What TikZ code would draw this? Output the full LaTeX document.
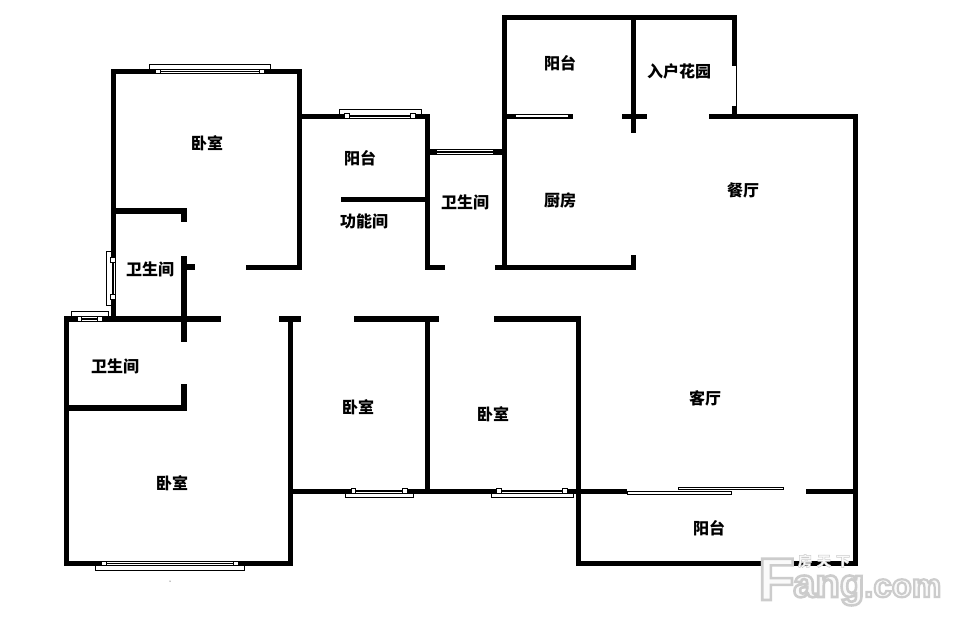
\documentclass[tikz,border=0pt]{standalone}
\usepackage{fontspec}
\setmainfont{Liberation Sans}
\newfontfamily\cjk{Noto Sans CJK SC}
\newcommand{\markout}[2]{\special{pdf:code 2 Tr #1 w 0.8 G 0.98 g}#2\special{pdf:code 0 Tr}}
\tikzset{
	wall/.style={line width=5pt},
	wallb/.style={line width=6pt},
	frame/.style={draw, fill=white, line width=.8pt},
	slit/.style={draw=white, line width=3.6pt},
	mid/.style={draw=black, line width=1.2pt},
	sq/.style={draw, fill=white, line width=.7pt, minimum size=4.6pt, inner sep=0pt},
	room/.style={font=\cjk\bfseries\fontsize{16}{16}\selectfont, inner sep=0pt},
	logo/.style={inner sep=0pt, anchor=base west},
}
\begin{document}
\begin{tikzpicture}[x=1pt, y=-1pt]
	\useasboundingbox[fill=white] (0,0) rectangle (957,623);

	% Window frames, behind the walls
	\foreach \xa/\xb/\ya/\yb in {149/270/64.5/72, 339.5/421.5/109.5/116, 71.5/108.5/311.5/319,
		95.5/244.5/570/563, 345.5/413.5/497/491, 491/573.5/497/491}
		\draw[frame] (\xa,\ya) rectangle (\xb,\yb);
	\draw[frame] (106.5,251) rectangle (113,305.5);

	% Walls, upper left
	\draw[wall] (113,319) -- (113,71.5) -- (299,71.5) -- (299,267) -- (246,267);
	\draw[wall] (299,116) -- (427,116) -- (427,267) -- (445,267);
	\draw[wall] (341,199) -- (427,199);
	\draw[wallb] (113,211) -- (184,211) -- (184,222);
	\draw[wallb] (184,256) -- (184,342);
	\draw[wallb] (184,267) -- (195,267);

	% Walls, corridor and lower left
	\draw[wallb] (64,319) -- (221,319);
	\draw[wallb] (279,319) -- (301,319);
	\draw[wallb] (354,319) -- (439,319);
	\draw[wall] (66.5,319) -- (66.5,563.5) -- (290,563.5) -- (290,319);
	\draw[wallb] (66.5,408) -- (184,408) -- (184,384);
	\draw[wall] (290,491) -- (627,491);
	\draw[wall] (427,319) -- (427,491);

	% Walls, right
	\draw[wallb] (494,319) -- (580.5,319);
	\draw[wall] (578,319) -- (578,563.5) -- (855,563.5) -- (855,116) -- (709,116);
	\draw[wall] (806,491) -- (855,491);
	\draw[wall] (495,267) -- (633.5,267) -- (633.5,255);
	\draw[wall] (504,267) -- (504,17.5) -- (734.3,17.5) -- (734.3,66);
	\draw[wall] (633.5,17.5) -- (633.5,133);
	\draw[wall] (504,116) -- (572.7,116);
	\draw[wall] (622,116) -- (646.7,116);
	\draw[wall] (734.3,106) -- (734.3,116);
	\draw[wallb] (427,152) -- (504,152);
	\draw[line width=.8pt] (736.4,66) -- (736.4,106);

	% Window panes in the walls
	\foreach \xa/\xb/\yw in {158/262/71.5, 347/413/116, 79.5/100/319, 104/236/563.5, 353.5/405/491, 499/565/491} {
		\draw[slit] (\xa,\yw) -- (\xb,\yw);
		\draw[mid] (\xa,\yw) -- (\xb,\yw);
		\node[sq] at (\xa,\yw) {};
		\node[sq] at (\xb,\yw) {};
	}
	\draw[slit] (113,260) -- (113,297);
	\draw[mid] (113,260) -- (113,297);
	\node[sq] at (113,260) {};
	\node[sq] at (113,297) {};
	\draw[slit] (437,152) -- (493,152);
	\draw[mid] (437,152) -- (493,152);
	\draw[draw=white, line width=1.4pt] (516,116) -- (567.5,116);

	% Sliding doors of the balcony
	\draw[frame] (627,491.5) rectangle (731,494.5);
	\draw[frame] (678.5,487.5) rectangle (783,489.5);

	% Room names
	\node[room] (bedtop)    at (207,143.5) {卧室};
	\node[room] (balcmid)   at (360,158.5) {阳台};
	\node[room] (study)     at (364,221)   {功能间};
	\node[room] (bathmid)   at (465,202)   {卫生间};
	\node[room] (balctop)   at (560,63.5)  {阳台};
	\node[room] (garden)    at (679,71)    {入户花园};
	\node[room] (kitchen)   at (560,201)   {厨房};
	\node[room] (dining)    at (743,190.5) {餐厅};
	\node[room] (bathup)    at (150,269)   {卫生间};
	\node[room] (bathlow)   at (115,366)   {卫生间};
	\node[room] (bedmid)    at (358,407.5) {卧室};
	\node[room] (bedright)  at (493,414.5) {卧室};
	\node[room] (living)    at (705,398.5) {客厅};
	\node[room] (bedlow)    at (172,483.5) {卧室};
	\node[room] (balclow)   at (709,528)   {阳台};

	% Stray dot under the plan
	\fill (170,581) circle (.5);

	% Watermark
	\node[logo, font=\bfseries\fontsize{60}{60}\selectfont] (logof) at (758,600) {\markout{2.6}{F}};
	\node[logo, font=\bfseries\fontsize{40}{40}\selectfont] (logoang) at (793,597) {\markout{2.6}{ang}};
	\node[logo, font=\bfseries\fontsize{33}{33}\selectfont] (logocom) at (864,597) {\markout{2.2}{.com}};
	\node[inner sep=0pt, font=\cjk\bfseries\fontsize{14}{14}\selectfont] (logocn) at (824,561) {\markout{.5}{房\hspace{5pt}天\hspace{5pt}下}};
\end{tikzpicture}
\end{document}
